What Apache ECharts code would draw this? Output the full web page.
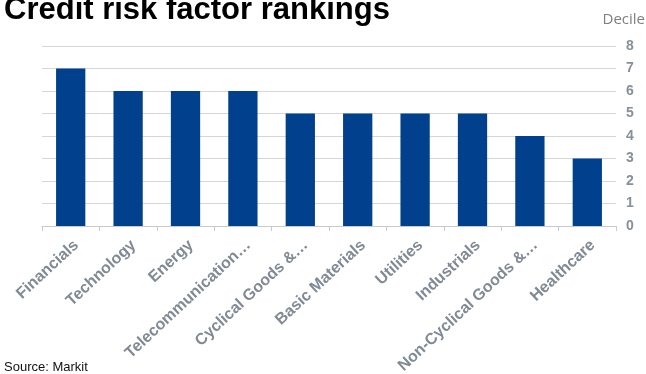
<!DOCTYPE html>
<html>
<head>
<meta charset="utf-8">
<script src="https://cdn.jsdelivr.net/npm/echarts@6/dist/echarts.min.js"></script>
<style>
html,body{margin:0;padding:0;background:#fff;}
#chart{width:646px;height:374px;}
</style>
</head>
<body>
<div id="chart"></div>
<script>
var categories = ["Financials", "Technology", "Energy", "Telecommunication\u2026", "Cyclical Goods &\u2026", "Basic Materials", "Utilities", "Industrials", "Non-Cyclical Goods &\u2026", "Healthcare"];
var deciles = [7, 6, 6, 6, 5, 5, 5, 5, 4, 3];
var yTicks = [0, 1, 2, 3, 4, 5, 6, 7, 8];

var chart = echarts.init(document.getElementById('chart'), null, {renderer: 'canvas'});
chart.setOption({
  animation: false,
  backgroundColor: '#ffffff',
  title: {
    text: 'Credit risk factor rankings',
    left: -1, top: -10,
    textStyle: {fontFamily: 'Liberation Sans, Arial', fontWeight: 'bold', fontSize: 31, color: '#000000'}
  },
  graphic: [
    {type: 'text', right: 1, top: 12, style: {text: 'Decile', font: '15px "Open Sans", sans-serif', fill: '#7f7f7f'}},
    {type: 'text', left: 4, top: 361, style: {text: 'Source: Markit', font: '13px "Liberation Sans", Arial', fill: '#111111'}}
  ],
  grid: {left: 42, right: 30, top: 46, bottom: 148, containLabel: false, outerBoundsMode: 'none'},
  xAxis: {
    type: 'category',
    data: categories,
    axisLine: {show: true, lineStyle: {color: '#c8cbce', width: 1}},
    axisTick: {show: true, alignWithLabel: false, length: 5, lineStyle: {color: '#c8cbce'}},
    axisLabel: {interval: 0, rotate: 43, margin: 11, verticalAlign: 'top', color: '#808a95', fontWeight: 'bold', fontSize: 16, fontFamily: 'Liberation Sans, Arial'}
  },
  yAxis: {
    type: 'value',
    position: 'right',
    min: yTicks[0], max: yTicks[yTicks.length - 1], interval: 1,
    axisLine: {show: false},
    axisTick: {show: false},
    splitLine: {lineStyle: {color: '#d4d6d8', width: 1}},
    axisLabel: {margin: 10, color: '#86909a', fontWeight: 'bold', fontSize: 14, fontFamily: 'Liberation Sans, Arial'}
  },
  series: [{
    type: 'bar',
    data: deciles,
    barWidth: '51%',
    itemStyle: {color: '#00408c'}
  }]
});
</script>
</body>
</html>
